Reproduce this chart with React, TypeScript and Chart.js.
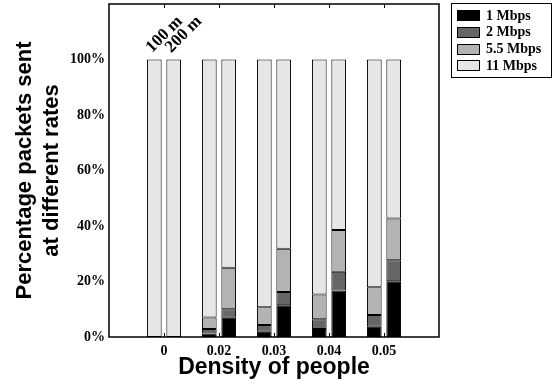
import React, { useEffect, useRef } from 'react';
import { Chart, registerables } from 'chart.js';

Chart.register(...registerables);

const densities = ['0', '0.02', '0.03', '0.04', '0.05'];
const distances = ['100 m', '200 m'];
const rates = ['1 Mbps', '2 Mbps', '5.5 Mbps', '11 Mbps'];
const rateColors = ['#000000', '#666666', '#b3b3b3', '#e6e6e6'];

// 100 m range
const r1At100 = [0, 1.3, 1.9, 2.9, 3.7];
const r2At100 = [0, 1.6, 2.4, 3.5, 4.2];
const r55At100 = [0, 4.1, 6.4, 8.9, 10.0];
const r11At100 = [100, 93.0, 89.3, 84.7, 82.1];

// 200 m range
const r1At200 = [0, 6.9, 11.4, 16.8, 20.1];
const r2At200 = [0, 3.1, 4.8, 6.7, 7.6];
const r55At200 = [0, 15.0, 15.6, 15.1, 15.0];
const r11At200 = [100, 75.0, 68.2, 61.4, 57.3];

const yTicks = [0, 20, 40, 60, 80, 100];

const SERIF = "'Liberation Serif', 'Times New Roman', serif";
const SANS = "'Liberation Sans', Arial, Helvetica, sans-serif";

export default function App() {
  const ref = useRef<HTMLCanvasElement | null>(null);

  useEffect(() => {
    document.body.style.margin = '0';
    const canvas = ref.current;
    if (!canvas) return;

    const labels = ['', ...densities, ''];
    const pad = (arr: number[]) => [null, ...arr, null];
    const series100 = [r1At100, r2At100, r55At100, r11At100];
    const series200 = [r1At200, r2At200, r55At200, r11At200];

    const datasets: any[] = [];
    [series100, series200].forEach((series, di) => {
      series.forEach((d, i) => {
        datasets.push({
          label: rates[i] + ' ' + distances[di],
          data: pad(d),
          backgroundColor: rateColors[i],
          borderColor: '#000000',
          borderWidth: 1,
          borderSkipped: false,
          stack: distances[di],
          categoryPercentage: 0.705,
          barPercentage: 0.758,
        });
      });
    });

    const framePlugin = {
      id: 'frame',
      afterDatasetsDraw(chart: any) {
        const { ctx, chartArea } = chart;
        const xs = chart.scales.x;
        ctx.save();
        ctx.strokeStyle = '#000';
        ctx.lineWidth = 1.5;
        ctx.strokeRect(chartArea.left, chartArea.top, chartArea.right - chartArea.left, chartArea.bottom - chartArea.top);
        ctx.lineWidth = 1;
        for (let i = 1; i <= densities.length; i++) {
          const x = Math.round(xs.getPixelForValue(i)) + 0.5;
          ctx.beginPath();
          ctx.moveTo(x, chartArea.bottom);
          ctx.lineTo(x, chartArea.bottom - 4);
          ctx.moveTo(x, chartArea.top);
          ctx.lineTo(x, chartArea.top + 4);
          ctx.stroke();
        }
        // rotated distance labels above the first pair of bars
        ctx.fillStyle = '#000';
        ctx.font = `bold 17px ${SERIF}`;
        ctx.textAlign = 'center';
        ctx.textBaseline = 'middle';
        distances.forEach((name, di) => {
          const meta = chart.getDatasetMeta(di * rates.length + rates.length - 1);
          const el = meta.data[1];
          if (!el) return;
          ctx.save();
          ctx.translate(el.x + 10, el.y - 25);
          ctx.rotate(-Math.PI / 4);
          ctx.fillText(name, 0, 0);
          ctx.restore();
        });
        ctx.restore();
      },
    };

    const legendPlugin = {
      id: 'boxLegend',
      afterDraw(chart: any) {
        const { ctx } = chart;
        ctx.save();
        ctx.strokeStyle = '#000';
        ctx.lineWidth = 1;
        ctx.strokeRect(451.5, 3.5, 100, 74);
        ctx.font = `bold 14px ${SERIF}`;
        ctx.textAlign = 'left';
        ctx.textBaseline = 'middle';
        rates.forEach((r, i) => {
          const y = 15.5 + i * 16.8;
          ctx.fillStyle = rateColors[i];
          ctx.fillRect(457, Math.round(y - 5.5), 23, 11);
          ctx.strokeRect(457.5, Math.round(y - 5.5) + 0.5, 22, 10);
          ctx.fillStyle = '#000';
          ctx.fillText(r, 486, y + 0.5);
        });
        ctx.restore();
      },
    };

    const chart = new Chart(canvas, {
      type: 'bar',
      data: { labels, datasets },
      options: {
        responsive: false,
        animation: false,
        devicePixelRatio: 1,
        layout: { padding: { top: 4, right: 114, left: 0, bottom: 0 } },
        plugins: { legend: { display: false }, tooltip: { enabled: false } },
        scales: {
          x: {
            type: 'category',
            offset: false,
            grid: { display: false, drawTicks: false },
            border: { display: false },
            ticks: {
              autoSkip: false,
              maxRotation: 0,
              padding: 6,
              color: '#000',
              font: { family: SERIF, weight: 'bold', size: 14 },
            },
            title: {
              display: true,
              text: 'Density of people',
              color: '#000',
              font: { family: SANS, weight: 'bold', size: 23, lineHeight: 1.2 },
              padding: { top: 0, bottom: 7 },
            },
            afterFit(scale: any) {
              scale.height = 51;
              scale.paddingLeft = 0;
              scale.paddingRight = 0;
            },
          },
          y: {
            type: 'linear',
            stacked: true,
            min: 0,
            max: 120,
            grid: { display: false, drawTicks: false },
            border: { display: false },
            afterBuildTicks(scale: any) {
              scale.ticks = yTicks.map((v) => ({ value: v }));
            },
            ticks: {
              padding: 4,
              color: '#000',
              font: { family: SERIF, weight: 'bold', size: 14 },
              callback: (v: any) => v + '%',
            },
            title: {
              display: true,
              text: ['Percentage packets sent', 'at different rates'],
              color: '#000',
              font: { family: SANS, weight: 'bold', size: 22, lineHeight: 1.2 },
              padding: { top: 12, bottom: 0 },
            },
            afterFit(scale: any) {
              scale.width = 109;
              scale.paddingTop = 0;
              scale.paddingBottom = 0;
            },
          },
        },
      },
      plugins: [framePlugin, legendPlugin],
    } as any);

    return () => chart.destroy();
  }, []);

  return <canvas ref={ref} width={553} height={388} style={{ display: 'block' }} />;
}
